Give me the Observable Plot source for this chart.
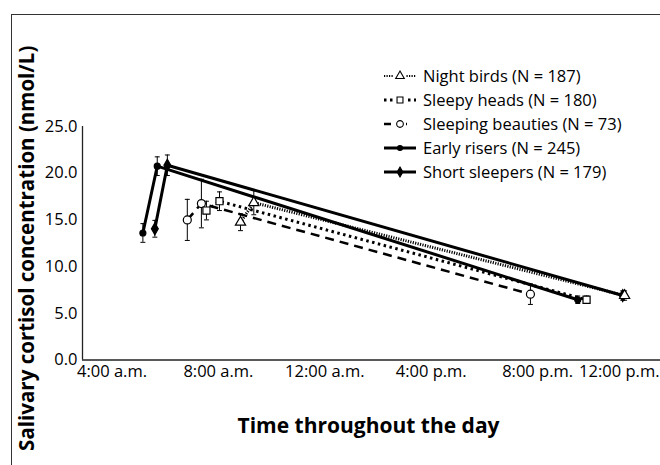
<!DOCTYPE html>
<html><head><meta charset="utf-8">
<script src="https://cdn.jsdelivr.net/npm/d3@7"></script>
<script src="https://cdn.jsdelivr.net/npm/@observablehq/plot@0.6"></script>
<style>
body{margin:0;background:#fff;font-family:"Open Sans",sans-serif;}
#wrap{position:relative;width:660px;height:465px;overflow:hidden;background:#fff;}
#wrap > svg{position:absolute;left:0;top:0;}
#border{position:absolute;left:11px;top:14px;width:700px;height:500px;border-left:1px solid #333;border-top:1px solid #333;pointer-events:none;}
#legend{position:absolute;left:383px;top:64px;font-size:16.5px;color:#000;line-height:24px;}
#legend .row{display:flex;align-items:center;height:24px;white-space:nowrap;}
#legend .row svg{position:static;margin-right:6px;flex:none;}
</style></head><body><div id="wrap"></div>
<script>
// ---- data ----
const groupNames = ["Night birds", "Sleepy heads", "Sleeping beauties", "Early risers", "Short sleepers"];
const groupN = [187, 180, 73, 245, 179];

// time of day in hours, mean cortisol (nmol/L), error (nmol/L)
const nightBirdsTime = [8.83, 9.33, 23.27];
const nightBirdsCortisol = [14.75, 16.85, 6.9];
const nightBirdsErr = [0.9, 1.3, 0.5];

const sleepyHeadsTime = [7.55, 8.04, 21.84];
const sleepyHeadsCortisol = [16.0, 17.0, 6.45];
const sleepyHeadsErr = [1.0, 1.0, 0.4];

const sleepingBeautiesTime = [6.83, 7.36, 19.73];
const sleepingBeautiesCortisol = [15.0, 16.75, 7.05];
const sleepingBeautiesErr = [2.2, 2.6, 1.1];

const earlyRisersTime = [5.16, 5.70, 21.51];
const earlyRisersCortisol = [13.6, 20.75, 6.45];
const earlyRisersErr = [1.0, 1.0, 0.4];

const shortSleepersTime = [5.61, 6.08, 23.2];
const shortSleepersCortisol = [14.05, 20.85, 6.9];
const shortSleepersErr = [0.9, 1.1, 0.5];

const yTickValues = [0, 5, 10, 15, 20, 25];
const xTickValues = [4, 8, 12, 16, 20, 24];
const xTickLabels = ["4:00 a.m.", "8:00 a.m.", "12:00 a.m.", "4:00 p.m.", "8:00 p.m.", "12:00 p.m."];
const xTitle = "Time throughout the day";
const yTitle = "Salivary cortisol concentration (nmol/L)";

// ---- build table ----
const timesByGroup = [nightBirdsTime, sleepyHeadsTime, sleepingBeautiesTime, earlyRisersTime, shortSleepersTime];
const meansByGroup = [nightBirdsCortisol, sleepyHeadsCortisol, sleepingBeautiesCortisol, earlyRisersCortisol, shortSleepersCortisol];
const errsByGroup = [nightBirdsErr, sleepyHeadsErr, sleepingBeautiesErr, earlyRisersErr, shortSleepersErr];
const rowsByGroup = groupNames.map((g, gi) => timesByGroup[gi].map((t, i) => ({
  group: g, time: t, value: meansByGroup[gi][i],
  lo: meansByGroup[gi][i] - errsByGroup[gi][i], hi: meansByGroup[gi][i] + errsByGroup[gi][i]
})));
const allRows = rowsByGroup.flat();

// ---- styles ----
const styles = [
  {dash: "1.2 1.3", width: 3, symbol: "triangle", r: 3.8, fill: "white"},
  {dash: "2.5 3.5", width: 3, symbol: "square", r: 4.0, fill: "white"},
  {dash: "9 6", width: 2.5, symbol: "circle", r: 4.0, fill: "white"},
  {dash: null, width: 3, symbol: "circle", r: 3.0, fill: "black"},
  {dash: null, width: 3, symbol: "diamond", r: 3.6, fill: "black"}
];
const capSymbol = {draw(ctx, size) { const w = Math.sqrt(size); ctx.moveTo(-w, 0); ctx.lineTo(w, 0); }};

const xDomain = [2.89, 24.62];
const marks = [];
marks.push(Plot.ruleY([0], {stroke: "#222", strokeWidth: 1.3}));
marks.push(Plot.ruleX([xDomain[0]], {y1: 0, y2: 25, stroke: "#222", strokeWidth: 1.3}));
marks.push(Plot.axisY({ticks: yTickValues, tickFormat: d => d.toFixed(1), tickSize: 0, tickPadding: 5, fontSize: 16.5, label: null}));
marks.push(Plot.axisX({ticks: xTickValues.slice(0, -1), tickFormat: d => xTickLabels[xTickValues.indexOf(d)], tickSize: 0, tickPadding: 5, fontSize: 16.5, label: null}));
marks.push(Plot.text([xTickLabels[xTickLabels.length - 1]], {frameAnchor: "bottom-right", textAnchor: "end", lineAnchor: "top", dy: 5, dx: -1, fontSize: 16.5}));
marks.push(Plot.text([xTitle], {frameAnchor: "bottom", textAnchor: "middle", lineAnchor: "middle", dy: 66, dx: -3, fontSize: 21, fontWeight: "bold"}));
marks.push(Plot.text([yTitle], {frameAnchor: "left", textAnchor: "middle", lineAnchor: "middle", rotate: -90, dx: -55, dy: 5, fontSize: 20.5, fontWeight: "bold"}));

// lines
rowsByGroup.forEach((rows, gi) => {
  const s = styles[gi];
  marks.push(Plot.line(rows, {x: "time", y: "value", stroke: "black", strokeWidth: s.width, strokeDasharray: s.dash, strokeLinecap: "butt"}));
});
// error bars
marks.push(Plot.ruleX(allRows, {x: "time", y1: "lo", y2: "hi", stroke: "black", strokeWidth: 1}));
marks.push(Plot.dot(allRows, {x: "time", y: "hi", symbol: capSymbol, r: 1.4, stroke: "black", strokeWidth: 1}));
marks.push(Plot.dot(allRows, {x: "time", y: "lo", symbol: capSymbol, r: 1.4, stroke: "black", strokeWidth: 1}));
// markers (night birds last so its triangle sits on top)
[4, 3, 2, 1, 0].forEach(gi => {
  const s = styles[gi];
  marks.push(Plot.dot(rowsByGroup[gi], {x: "time", y: "value", symbol: s.symbol, r: s.r, fill: s.fill, stroke: "black", strokeWidth: 1.2}));
});

const chart = Plot.plot({
  width: 660, height: 465,
  marginLeft: 82, marginRight: 0, marginTop: 126, marginBottom: 105.5,
  style: {fontFamily: "Open Sans, sans-serif", color: "#000", background: "transparent"},
  x: {domain: xDomain},
  y: {domain: [0, 25]},
  marks
});
const wrap = document.getElementById("wrap");
wrap.appendChild(chart);
const border = document.createElement("div");
border.id = "border";
wrap.appendChild(border);

// legend
const legend = document.createElement("div");
legend.id = "legend";
groupNames.forEach((g, gi) => {
  const s = styles[gi];
  const row = document.createElement("div");
  row.className = "row";
  const svg = d3.create("svg").attr("width", 34).attr("height", 16);
  const line = svg.append("line").attr("x1", 1).attr("x2", 33).attr("y1", 8).attr("y2", 8)
    .attr("stroke", "black").attr("stroke-width", gi === 0 ? 2 : s.width);
  if (s.dash) line.attr("stroke-dasharray", gi === 2 ? "7 9" : s.dash);
  const sym = d3.symbol().type({triangle: d3.symbolTriangle, square: d3.symbolSquare, circle: d3.symbolCircle, diamond: d3.symbolDiamond}[s.symbol]).size(Math.PI * s.r * s.r * 0.7);
  if (s.fill === "white") svg.append("rect").attr("x", 11).attr("y", 2).attr("width", 12).attr("height", 12).attr("fill", "white");
  svg.append("path").attr("d", sym()).attr("transform", "translate(17,8)").attr("fill", s.fill).attr("stroke", "black").attr("stroke-width", 1.1);
  row.appendChild(svg.node());
  const span = document.createElement("span");
  span.textContent = `${g} (N = ${groupN[gi]})`;
  row.appendChild(span);
  legend.appendChild(row);
});
wrap.appendChild(legend);
</script></body></html>
